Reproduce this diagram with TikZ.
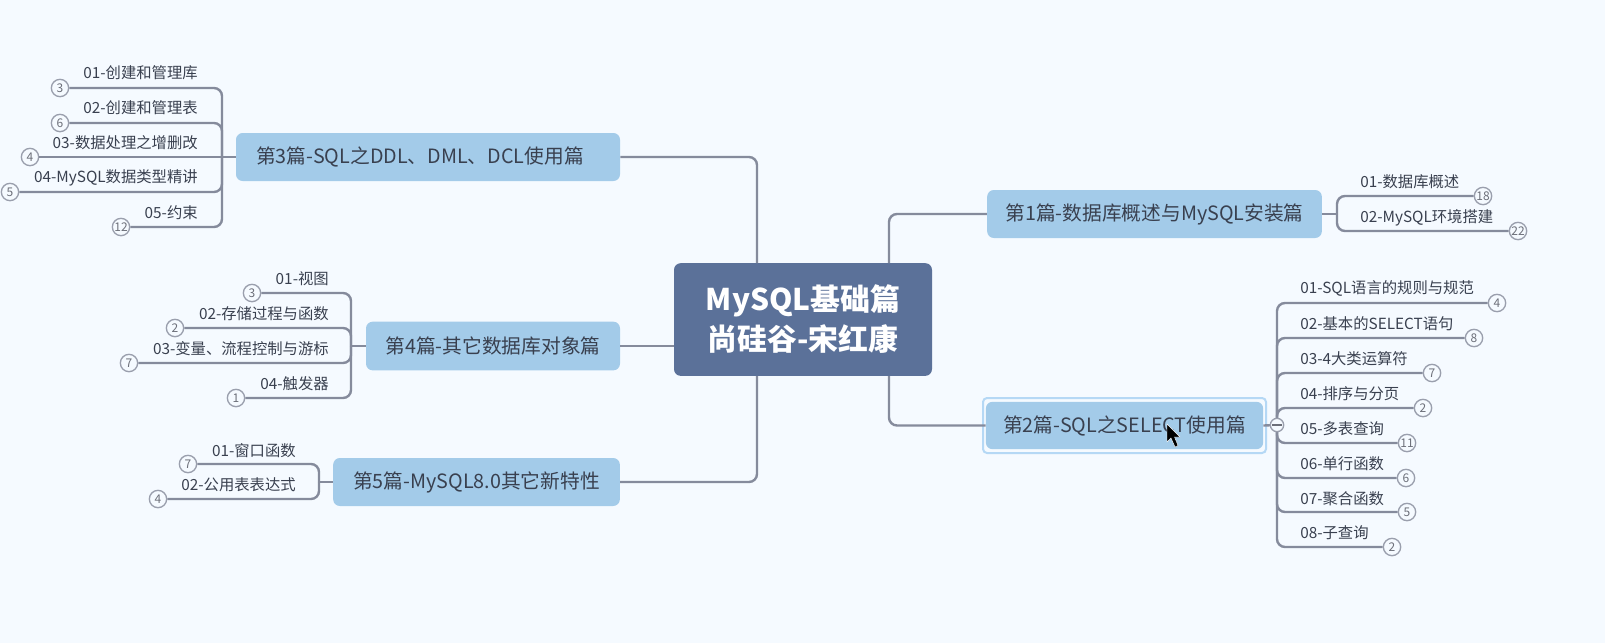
\documentclass[tikz,border=0pt]{standalone}
\usepackage{fontspec}
\setmainfont{Noto Sans CJK SC}
\definecolor{bgc}{HTML}{F5FAFF}
\definecolor{linec}{HTML}{858B9C}
\definecolor{topicc}{HTML}{A3CBE9}
\definecolor{rootc}{HTML}{5B7199}
\definecolor{textc}{HTML}{39404F}
\definecolor{ringc}{HTML}{9A9FAD}
\definecolor{selc}{HTML}{B5D8F5}
\tikzset{
  x=0.75pt,y=-0.75pt,
  conn/.style={draw=linec,line width=1.8pt,rounded corners=6pt},
  rootbox/.style={fill=rootc,rounded corners=5pt,inner sep=0pt,text=white,font=\fontsize{22.4pt}{30pt}\selectfont\bfseries,align=center,anchor=center},
  topicbox/.style={fill=topicc,rounded corners=5pt,inner sep=0pt,text=textc,font=\fontsize{14.8pt}{19pt}\selectfont,anchor=center},
  leafr/.style={text=textc,font=\fontsize{11.5pt}{14pt}\selectfont,anchor=east,inner sep=0pt},
  leafl/.style={text=textc,font=\fontsize{11.5pt}{14pt}\selectfont,anchor=west,inner sep=0pt},
  badge/.style={circle,draw=ringc,fill=bgc,line width=1pt,minimum size=13pt,inner sep=0pt,text=ringc!70!black,font=\fontsize{9pt}{10pt}\selectfont},
}
\begin{document}
\begin{tikzpicture}
\useasboundingbox (0,0) rectangle (1605,643);
\fill[bgc] (0,0) rectangle (1605,643);
% root and topics
\node[rootbox,minimum width=193.5pt,minimum height=84.5pt] (root) at (803,319.5) {MySQL基础篇\\尚硅谷-宋红康};
\draw[selc,line width=1.5pt,rounded corners=3pt,fill=bgc] (983,398) rectangle (1266,453);
\node[topicbox,minimum width=208pt,minimum height=35.5pt] (t2) at (1124.5,425.5) {第2篇-SQL之SELECT使用篇};
\node[topicbox,minimum width=288pt,minimum height=36pt] (t3) at (428,157) {第3篇-SQL之DDL、DML、DCL使用篇\hspace*{12pt}};
\node[topicbox,minimum width=190.5pt,minimum height=36.5pt] (t4) at (493,346) {第4篇-其它数据库对象篇};
\node[topicbox,minimum width=215pt,minimum height=36pt] (t5) at (476.5,482) {第5篇-MySQL8.0其它新特性};
\node[topicbox,minimum width=251pt,minimum height=36pt] (t1) at (1154.5,214) {第1篇-数据库概述与MySQL安装篇};
% junctions
\coordinate (ja) at (757,263);
\coordinate (jb) at (889,263);
\coordinate (jc) at (757,376);
\coordinate (jd) at (889,376);
\coordinate (j3) at (222,157);
\coordinate (j4) at (351,346);
\coordinate (j5) at (319,482);
\coordinate (j1) at (1337,214);
\coordinate (j2) at (1277,425);
% root connectors
\draw[conn] (t3.east) -| (ja);
\draw[conn] (t4.east) -- (root.west |- t4.east);
\draw[conn] (t5.east) -| (jc);
\draw[conn] (t1.west) -| (jb);
\draw[conn] (t2.west) -| (jd);
% topic 3
\node[leafr] (l31) at (198,73) {01-创建和管理库};
\node[leafr] (l32) at (198,108) {02-创建和管理表};
\node[leafr] (l33) at (198,143) {03-数据处理之增删改};
\node[leafr] (l34) at (198,178) {04-MySQL数据类型精讲};
\node[leafr] (l35) at (198,213) {05-约束};
\node[badge] (b31) at (60,88) {3};
\node[badge] (b32) at (60,123) {6};
\node[badge] (b33) at (30,157) {4};
\node[badge] (b34) at (10,192) {5};
\node[badge] (b35) at (121,227) {12};
\draw[conn] (j3) -- (t3.west);
\draw[conn] (b31.east) -| (j3);
\draw[conn] (b32.east) -| (j3);
\draw[conn] (b33.east) -- (j3);
\draw[conn] (b34.east) -| (j3);
\draw[conn] (b35.east) -| (j3);
% topic 4
\node[leafr] (l41) at (329,279) {01-视图};
\node[leafr] (l42) at (329,314) {02-存储过程与函数};
\node[leafr] (l43) at (329,349) {03-变量、流程控制与游标};
\node[leafr] (l44) at (329,384) {04-触发器};
\node[badge] (b41) at (252,293) {3};
\node[badge] (b42) at (175,328) {2};
\node[badge] (b43) at (129,363) {7};
\node[badge] (b44) at (236,398) {1};
\draw[conn] (j4) -- (t4.west);
\draw[conn] (b41.east) -| (j4);
\draw[conn] (b42.east) -| (j4);
\draw[conn] (b43.east) -| (j4);
\draw[conn] (b44.east) -| (j4);
% topic 5
\node[leafr] (l51) at (296,451) {01-窗口函数};
\node[leafr] (l52) at (296,485) {02-公用表表达式};
\node[badge] (b51) at (188,464) {7};
\node[badge] (b52) at (158,499) {4};
\draw[conn] (j5) -- (t5.west);
\draw[conn] (b51.east) -| (j5);
\draw[conn] (b52.east) -| (j5);
% topic 1
\node[leafl] (l11) at (1360,182) {01-数据库概述};
\node[leafl] (l12) at (1360,218) {02-MySQL环境搭建};
\node[badge] (b11) at (1483,196) {18};
\node[badge] (b12) at (1518,231) {22};
\draw[conn] (j1) -- (t1.east);
\draw[conn] (b11.west) -| (j1);
\draw[conn] (b12.west) -| (j1);
% topic 2
\node[leafl] (l21) at (1300,288) {01-SQL语言的规则与规范};
\node[leafl] (l22) at (1300,323.5) {02-基本的SELECT语句};
\node[leafl] (l23) at (1300,358.5) {03-4大类运算符};
\node[leafl] (l24) at (1300,393.5) {04-排序与分页};
\node[leafl] (l25) at (1300,429) {05-多表查询};
\node[leafl] (l26) at (1300,464) {06-单行函数};
\node[leafl] (l27) at (1300,498.5) {07-聚合函数};
\node[leafl] (l28) at (1300,533) {08-子查询};
\node[badge] (b21) at (1497,303) {4};
\node[badge] (b22) at (1474,338) {8};
\node[badge] (b23) at (1432,373) {7};
\node[badge] (b24) at (1423,408) {2};
\node[badge] (b25) at (1407,443) {11};
\node[badge] (b26) at (1406,478) {6};
\node[badge] (b27) at (1407,512) {5};
\node[badge] (b28) at (1392,547) {2};
\foreach \n in {1,...,8}{\draw[conn] (b2\n.west) -| (j2);}
\draw[conn] (t2.east) -- (j2);
\node[circle,draw=ringc,fill=bgc,line width=1pt,minimum size=10pt,inner sep=0pt] (col) at (j2) {};
\draw[ringc!70!black,line width=0.8pt] ([xshift=-3.5pt]col.center) -- ([xshift=3.5pt]col.center);
% cursor
\fill[black,draw=white,line width=0.3pt] (1167,424) -- (1167,442) -- (1171,438) -- (1175,447) -- (1178,445.5) -- (1174.5,437) -- (1180,437) -- cycle;
\end{tikzpicture}
\end{document}
